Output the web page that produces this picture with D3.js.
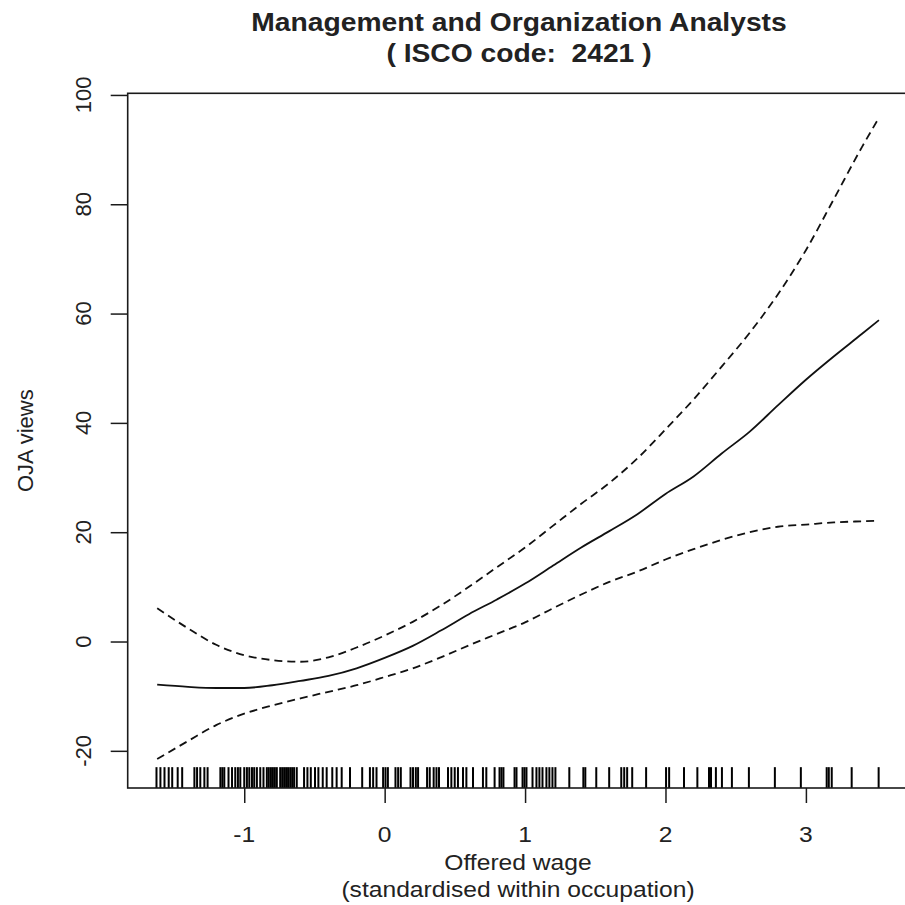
<!DOCTYPE html>
<html>
<head>
<meta charset="utf-8">
<script src="https://cdn.jsdelivr.net/npm/d3@7"></script>
<style>
  body { margin: 0; background: #fff; }
  text { font-family: "Liberation Sans", Arial, sans-serif; fill: #222; white-space: pre; }
</style>
</head>
<body>
<svg id="chart" width="905" height="905"></svg>
<script>
// wage grid the smooth was read at
var wageGrid = [-1.62, -1.4, -1.2, -1.0, -0.8, -0.6, -0.4, -0.2, 0, 0.2, 0.4, 0.6, 0.8, 1.0,
  1.2, 1.4, 1.6, 1.8, 2.0, 2.2, 2.4, 2.6, 2.8, 3.0, 3.2, 3.4, 3.52];

// fitted smooth and the two confidence bands
var fitValues = [-7.9, -8.3, -8.5, -8.5, -8.0, -7.2, -6.3, -4.9, -3.0, -0.8, 2.0, 5.0, 7.7, 10.6,
  13.9, 17.2, 20.2, 23.3, 27.0, 30.2, 34.4, 38.4, 43.2, 47.9, 52.2, 56.3, 58.8];
var upperValues = [6.1, 2.4, -0.6, -2.5, -3.4, -3.7, -2.9, -1.1, 1.1, 3.6, 6.6, 10.0, 13.6, 17.2,
  21.2, 25.2, 29.0, 33.5, 38.8, 44.3, 50.3, 56.5, 63.5, 71.6, 81.0, 90.5, 95.8];
var lowerValues = [-21.5, -18.2, -15.3, -13.2, -11.7, -10.4, -9.2, -8.0, -6.5, -4.9, -2.9, -0.7, 1.4, 3.5,
  6.1, 8.6, 10.9, 12.8, 15.0, 16.9, 18.6, 20.0, 21.0, 21.4, 21.8, 22.0, 22.1];

// observed wages shown as rug
var rugValues = [-1.625, -1.597, -1.568, -1.538, -1.513, -1.474, -1.442,
  -1.355, -1.336, -1.313, -1.284, -1.261,
  -1.170, -1.156, -1.142, -1.112, -1.087, -1.064, -1.045, -1.028, -1.000, -0.981, -0.964, -0.945,
  -0.929, -0.910, -0.886, -0.863, -0.839, -0.825, -0.810, -0.796, -0.782, -0.768, -0.744, -0.730,
  -0.716, -0.702, -0.688, -0.673, -0.659, -0.645, -0.626, -0.574, -0.550, -0.526, -0.496, -0.472,
  -0.441, -0.413, -0.373, -0.342, -0.306, -0.247, -0.160, -0.105, -0.082, -0.058, -0.011, 0.006,
  0.023, 0.077, 0.096, 0.115, 0.184, 0.202, 0.222, 0.238, 0.302, 0.321, 0.349, 0.369, 0.387,
  0.451, 0.475, 0.499, 0.522, 0.558, 0.582, 0.629, 0.700, 0.724, 0.783,
  0.818, 0.832, 0.846, 0.925, 0.939, 0.982, 0.996, 1.010, 1.053, 1.081, 1.102, 1.124, 1.152,
  1.173, 1.195, 1.216, 1.315, 1.415, 1.429, 1.507, 1.599, 1.685, 1.706, 1.727, 1.763, 1.862,
  2.004, 2.026, 2.132, 2.227, 2.310, 2.324, 2.359, 2.402, 2.473, 2.594, 2.779, 2.964,
  3.148, 3.163, 3.184, 3.326, 3.518];

var xTicks = [-1, 0, 1, 2, 3];
var yTicks = [-20, 0, 20, 40, 60, 80, 100];

var titleLines = ["Management and Organization Analysts", "( ISCO code:  2421 )"];
var xLabelLines = ["Offered wage", "(standardised within occupation)"];
var yLabel = "OJA views";

drawChart(d3.select("#chart"));

function drawChart(svg) {
  var left = 127.7, right = 907, top = 93.3, bottom = 788;
  var stretch = 1.12; //the reference text is drawn a bit wide

  var x = d3.scaleLinear().domain([-1.83, 3.72]).range([left, right]);
  var y = d3.scaleLinear().domain([-26.8, 100.3]).range([bottom, top]);

  var ink = "#1a1a1a";

  function label(d) { return d < 0 ? "-" + Math.abs(d) : d; }

  //x axis, ticks hanging below the box
  var xAxis = svg.append("g")
    .attr("transform", "translate(0," + bottom + ")")
    .call(d3.axisBottom(x).tickValues(xTicks).tickSize(15).tickFormat(""));
  xAxis.select(".domain").remove();
  xAxis.selectAll("line").attr("stroke", ink).attr("stroke-width", 1.5);

  svg.append("g").selectAll("text")
    .data(xTicks)
    .enter()
    .append("text")
    .attr("transform", function (d) { return "translate(" + x(d) + ",842) scale(" + stretch + ",1)"; })
    .attr("text-anchor", "middle")
    .style("font-size", "22px")
    .text(label);

  //y axis, labels turned like R does
  var yAxis = svg.append("g")
    .attr("transform", "translate(" + left + ",0)")
    .call(d3.axisLeft(y).tickValues(yTicks).tickSize(17).tickFormat(""));
  yAxis.select(".domain").remove();
  yAxis.selectAll("line").attr("stroke", ink).attr("stroke-width", 1.5);

  svg.append("g").selectAll("text")
    .data(yTicks)
    .enter()
    .append("text")
    .attr("transform", function (d) { return "translate(91," + y(d) + ") rotate(-90)"; })
    .attr("text-anchor", "middle")
    .style("font-size", "22px")
    .text(label);

  //rug of observed wages
  svg.append("g").selectAll("line")
    .data(rugValues)
    .enter()
    .append("line")
    .attr("x1", function (d) { return x(d); })
    .attr("x2", function (d) { return x(d); })
    .attr("y1", bottom)
    .attr("y2", bottom - 0.03 * (bottom - top))
    .attr("stroke", "#000")
    .attr("stroke-width", 2);

  var line = d3.line()
    .x(function (d) { return x(d[0]); })
    .y(function (d) { return y(d[1]); })
    .curve(d3.curveMonotoneX);

  var series = [
    { values: fitValues, dash: null },
    { values: upperValues, dash: "8,5" },
    { values: lowerValues, dash: "8,5" }
  ];

  svg.append("g").selectAll("path")
    .data(series)
    .enter()
    .append("path")
    .attr("d", function (s) { return line(d3.zip(wageGrid, s.values)); })
    .attr("fill", "none")
    .attr("stroke", "#111")
    .attr("stroke-width", 1.8)
    .attr("stroke-dasharray", function (s) { return s.dash; });

  //plot box
  svg.append("rect")
    .attr("x", left)
    .attr("y", top)
    .attr("width", right - left)
    .attr("height", bottom - top)
    .attr("fill", "none")
    .attr("stroke", ink)
    .attr("stroke-width", 1.6);

  //titles
  svg.append("g").selectAll("text")
    .data(titleLines)
    .enter()
    .append("text")
    .attr("transform", function (d, i) { return "translate(519," + (31 + i * 31) + ") scale(1.13,1)"; })
    .attr("text-anchor", "middle")
    .style("font-size", "25px")
    .style("font-weight", "bold")
    .attr("fill", "#111")
    .text(function (d) { return d; });

  svg.append("g").selectAll("text")
    .data(xLabelLines)
    .enter()
    .append("text")
    .attr("transform", function (d, i) { return "translate(518," + (870 + i * 27) + ") scale(" + stretch + ",1)"; })
    .attr("text-anchor", "middle")
    .style("font-size", "22px")
    .text(function (d) { return d; });

  svg.append("text")
    .attr("transform", "translate(33," + ((top + bottom) / 2) + ") rotate(-90)")
    .attr("text-anchor", "middle")
    .style("font-size", "22px")
    .text(yLabel);
}
</script>
</body>
</html>
